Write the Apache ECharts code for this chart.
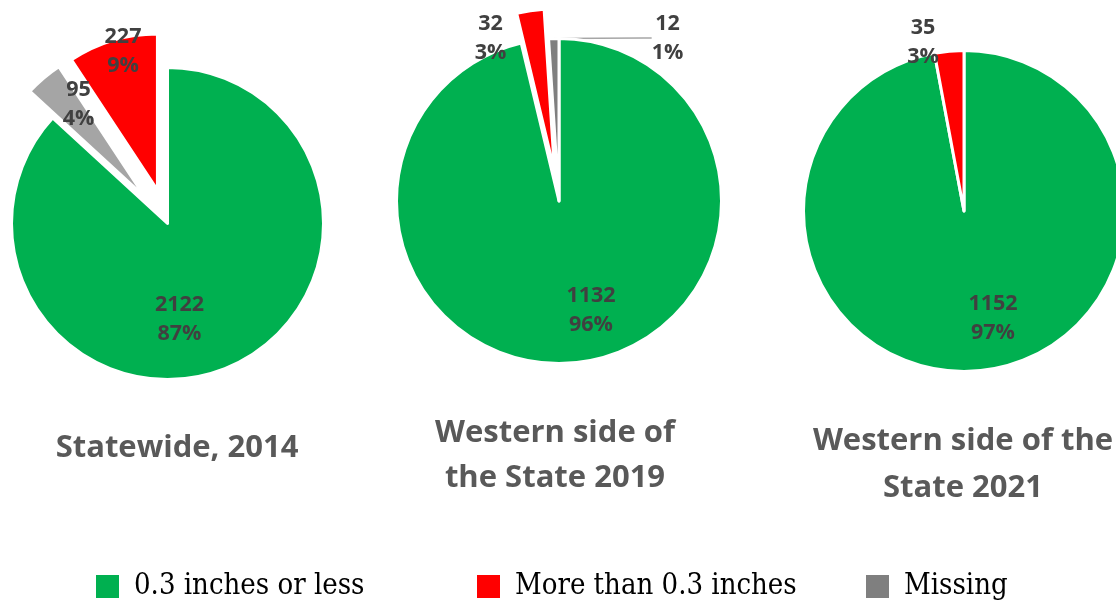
<!DOCTYPE html>
<html>
<head>
<meta charset="utf-8">
<script src="https://cdn.jsdelivr.net/npm/echarts@6/dist/echarts.min.js"></script>
<style>html,body{margin:0;padding:0;background:#fff}#c{width:1116px;height:605px}</style>
</head>
<body>
<div id="c"></div>
<script>
// Category names
const catLess = '0.3 inches or less';
const catMore = 'More than 0.3 inches';
const catMissing = 'Missing';

// Pie 1: Statewide, 2014 (clockwise order from 12 o'clock)
const pie1Names = [catLess, catMissing, catMore];
const pie1Values = [2122, 95, 227];
// Pie 2: Western side of the State 2019
const pie2Names = [catLess, catMore, catMissing];
const pie2Values = [1132, 32, 12];
// Pie 3: Western side of the State 2021
const pie3Names = [catLess, catMore];
const pie3Values = [1152, 35];

const titles = ['Statewide, 2014', 'Western side of\nthe State 2019', 'Western side of the\nState 2021'];
const legendNames = [catLess, catMore, catMissing];

const colorMap = {};
colorMap[catLess] = '#00B050';
colorMap[catMore] = '#FF0000';
colorMap[catMissing] = '#7F7F7F';

const labelFont = { fontFamily: 'Open Sans', fontWeight: 'bold', fontSize: 21.5, lineHeight: 29, color: '#404040' };

function buildData(names, values, opts) {
  return names.map((n, i) => {
    const o = opts[i] || {};
    const item = { name: n, value: values[i], itemStyle: { color: o.color || colorMap[n] } };
    if (o.selected) item.selected = true;
    return item;
  });
}

function buildLabelData(names, values, outsideIdx) {
  return names.map((n, i) => {
    const item = { name: n, value: values[i] };
    if (i === outsideIdx) {
      item.label = { position: 'outside' };
      item.labelLine = { show: true, length: 8, length2: 8, lineStyle: { color: '#A6A6A6', width: 1.5 } };
    }
    return item;
  });
}

function makeLayout(pos) {
  return function (params) {
    const p = pos[params.dataIndex];
    return { x: p[0], y: p[1], align: 'center', verticalAlign: 'middle' };
  };
}

function pieSeries(center, radius, offset, data) {
  return {
    type: 'pie',
    center: center,
    radius: radius,
    startAngle: 90,
    clockwise: true,
    selectedMode: 'multiple',
    selectedOffset: offset,
    emphasis: { disabled: true },
    silent: true,
    itemStyle: { borderColor: '#ffffff', borderWidth: 3 },
    label: { show: false },
    labelLine: { show: false },
    data: data
  };
}

// Transparent twin series carrying the data labels (so labels are not moved by exploded slices)
function labelSeries(center, radius, data, labelPos) {
  return {
    type: 'pie',
    center: center,
    radius: radius,
    startAngle: 90,
    clockwise: true,
    percentPrecision: 0,
    avoidLabelOverlap: false,
    silent: true,
    emphasis: { disabled: true },
    itemStyle: { color: 'rgba(0,0,0,0)', borderWidth: 0 },
    label: Object.assign({ show: true, position: 'inside', formatter: '{c}\n{d}%' }, labelFont),
    labelLine: { show: false },
    labelLayout: makeLayout(labelPos),
    data: data
  };
}

const titleStyle = { fontFamily: 'Open Sans', fontWeight: 'bold', fontSize: 31, lineHeight: 45, color: '#595959' };
const titleStyle3 = Object.assign({}, titleStyle, { lineHeight: 47 });

const option = {
  animation: false,
  backgroundColor: '#ffffff',
  title: [
    { text: titles[0], left: 172, top: 421, textAlign: 'center', textStyle: titleStyle },
    { text: titles[1], left: 550, top: 406, textAlign: 'center', textStyle: titleStyle },
    { text: titles[2], left: 958, top: 413, textAlign: 'center', textStyle: titleStyle3 }
  ],
  legend: legendNames.map((n, i) => ({
    data: [{ name: n, itemStyle: { color: colorMap[n] } }],
    left: [94, 475, 864][i],
    top: 572,
    padding: 0,
    icon: 'rect',
    itemWidth: 25,
    itemHeight: 25,
    selectedMode: false,
    textStyle: { fontFamily: 'DejaVu Serif Condensed', fontSize: 29, color: '#000000', padding: [3, 0, 0, 9] }
  })),
  series: [
    pieSeries([167.5, 223.5], 156, 35,
      buildData(pie1Names, pie1Values, [{}, { selected: true, color: '#A5A5A5' }, { selected: true }])),
    pieSeries([559, 201], 162.5, 30,
      buildData(pie2Names, pie2Values, [{}, { selected: true }, {}])),
    pieSeries([964, 211], 160.5, 0,
      buildData(pie3Names, pie3Values, [{}, {}])),
    labelSeries([167.5, 223.5], 156, buildLabelData(pie1Names, pie1Values, -1),
      [[179.5, 319.5], [78.5, 104.5], [123, 51]]),
    labelSeries([559, 201], 162.5, buildLabelData(pie2Names, pie2Values, 2),
      [[591, 310.5], [490.5, 38.5], [667.5, 38]]),
    labelSeries([964, 211], 160.5, buildLabelData(pie3Names, pie3Values, -1),
      [[993, 318.5], [923, 42]])
  ]
};

const chart = echarts.init(document.getElementById('c'), null, { renderer: 'canvas' });
chart.setOption(option);
</script>
</body>
</html>
